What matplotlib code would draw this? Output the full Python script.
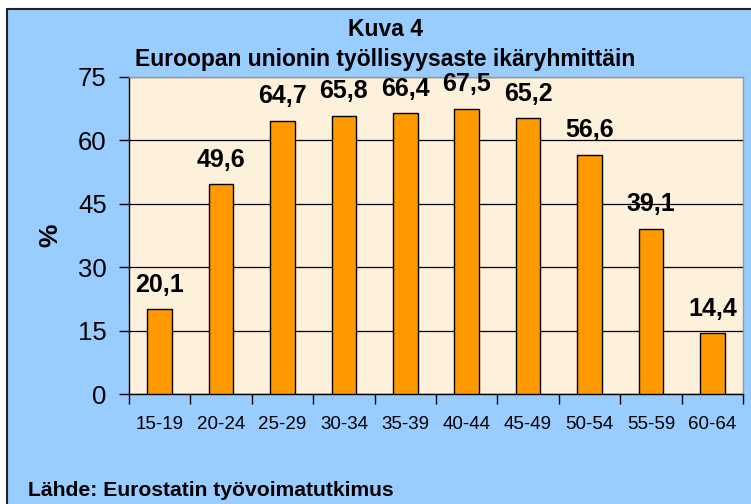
import matplotlib
matplotlib.use("Agg")
import matplotlib.pyplot as plt
from matplotlib.patches import Rectangle

plt.rcParams['font.family'] = ['Liberation Sans', 'DejaVu Sans']

categories = ["15-19", "20-24", "25-29", "30-34", "35-39", "40-44", "45-49", "50-54", "55-59", "60-64"]
values = [20.1, 49.6, 64.7, 65.8, 66.4, 67.5, 65.2, 56.6, 39.1, 14.4]
value_labels = ["20,1", "49,6", "64,7", "65,8", "66,4", "67,5", "65,2", "56,6", "39,1", "14,4"]
yticks = [0, 15, 30, 45, 60, 75]
title1 = "Kuva 4"
title2 = "Euroopan unionin työllisyysaste ikäryhmittäin"
ylabel = "%"
source = "Lähde: Eurostatin työvoimatutkimus"

W, H = 751, 504
fig = plt.figure(figsize=(W / 100, H / 100), dpi=100, facecolor="white")

# chart area background with border
bg = Rectangle((7 / W, -0.05), 1.1, (H - 9) / H + 0.05, transform=fig.transFigure,
               facecolor="#99CCFF", edgecolor="#222222", linewidth=1.5, zorder=-10)
fig.patches.append(bg)

ax = fig.add_axes([129 / W, (H - 394) / H, (743 - 129) / W, (394 - 77) / H])
ax.set_zorder(5)
ax.set_facecolor("#FDF1DC")

x = list(range(len(categories)))
ax.bar(x, values, width=0.4, color="#FF9900", edgecolor="black", linewidth=1.0, zorder=3)

for xi, v, lab in zip(x, values, value_labels):
    ax.annotate(lab, (xi, v), xytext=(0, 9), textcoords="offset points",
                ha="center", va="bottom", fontsize=18, fontweight="bold", zorder=4,
                annotation_clip=False)

ax.set_xlim(-0.5, len(categories) - 0.5)
ax.set_ylim(0, 75)
ax.set_yticks(yticks)
ax.set_yticklabels([str(t) for t in yticks], fontsize=18.5)
ax.yaxis.grid(True, color="black", linewidth=0.9, zorder=1)
ax.set_axisbelow(True)

ax.set_xticks(x)
ax.set_xticklabels(categories, fontsize=13.5)
ax.set_xticks([i - 0.5 for i in range(len(categories) + 1)], minor=True)
ax.tick_params(axis="x", which="major", length=0, pad=16)
ax.tick_params(axis="x", which="minor", length=7, width=1, color="black")
ax.tick_params(axis="y", which="major", length=7, width=1, color="black", pad=9)

for s in ["top", "right"]:
    ax.spines[s].set_color("#999999")
    ax.spines[s].set_linewidth(1.0)
for s in ["left", "bottom"]:
    ax.spines[s].set_color("black")
    ax.spines[s].set_linewidth(1.0)

ax.set_ylabel(ylabel, fontsize=19, fontweight="bold", va="center")
ax.yaxis.set_label_coords((50 - 129) / 614, (394 - 235) / 317)

fig.text(385 / W, 1 - 36 / H, title1, ha="center", va="baseline", fontsize=16.5, fontweight="bold")
fig.text(385 / W, 1 - 66 / H, title2, ha="center", va="baseline", fontsize=16.5, fontweight="bold")
fig.text(28 / W, 1 - 496 / H, source, ha="left", va="baseline", fontsize=15.2, fontweight="bold")

fig.savefig("out.png", dpi=100, facecolor="white")
